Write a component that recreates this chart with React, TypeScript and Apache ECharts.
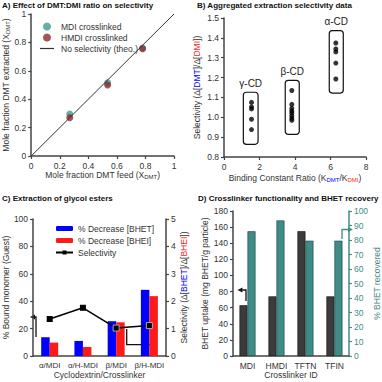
import React, { useEffect, useRef } from "react";
import * as echarts from "echarts";

// ---- Panel A data ----
const aFeed = [0.27, 0.535, 0.78];
const aMDI = [0.295, 0.515, 0.76];
const aHMDI = [0.27, 0.5, 0.755];
const aTheo = [[0, 0], [1, 1]];

// ---- Panel B data ----
const bGroups = ["γ-CD", "β-CD", "α-CD"];
const bX = [1.55, 3.82, 6.3];
const bGamma = [1.075, 1.052, 1.042, 0.99, 0.938];
const bBeta = [1.135, 1.065, 1.045, 1.032, 1.022, 1.008, 0.995, 0.985];
const bAlpha = [1.374, 1.344, 1.329, 1.273, 1.193];
const bBoxX = [[1.09, 1.92], [3.45, 4.24], [5.93, 6.72]];
const bBoxY = [[0.864, 1.126], [0.914, 1.186], [1.122, 1.436]];

// ---- Panel C data ----
const cCats = ["α/MDI", "α/H-MDI", "β/MDI", "β/H-MDI"];
const cBHET = [13.7, 11, 25.4, 48.3];
const cBHEI = [9.8, 6.6, 24.6, 43.7];
const cSel = [1.35, 1.76, 1.02, 1.11];

// ---- Panel D data ----
const dCats = ["MDI", "HMDI", "TFTN", "TFIN"];
const dUptake = [63, 74, 155, 74];
const dRecovered = [86, 93.5, 79.5, 79.5];

const FONT = "Liberation Sans, Arial, Helvetica, sans-serif";
const TXT = "#333";
const TEAL = "#3f8b86";
const BLUE = "#0000ff";
const RED = "#ff1a1a";

const axisCommon = {
  axisLine: { show: true, lineStyle: { color: "#444", width: 1.5 } },
  axisTick: { show: true, length: 3, lineStyle: { color: "#444", width: 1.2 } },
  axisLabel: { fontSize: 8.5, color: TXT, fontFamily: FONT, margin: 5 },
  splitLine: { show: false },
  nameTextStyle: { fontSize: 8.5, color: TXT, fontFamily: FONT },
};

const sub = { fontSize: 6, color: TXT, fontFamily: FONT, padding: [4, 0, 0, 0] };
const subB = { ...sub, color: BLUE };
const subR = { ...sub, color: RED };
const nameStyle = (extra: any = {}) => ({
  fontSize: 8.5,
  color: TXT,
  fontFamily: FONT,
  rich: { sub, subB, subR, b: { fontSize: 8.5, color: BLUE, fontFamily: FONT }, r: { fontSize: 8.5, color: RED, fontFamily: FONT }, t: { fontSize: 8.5, color: TXT, fontFamily: FONT } },
  ...extra,
});

function arrow(points: number[][], color: string) {
  const n = points.length;
  const [x1, y1] = points[n - 2];
  const [x2, y2] = points[n - 1];
  const ang = Math.atan2(y2 - y1, x2 - x1);
  const L = 5, W = 2.6;
  const bx = x2 - L * Math.cos(ang), by = y2 - L * Math.sin(ang);
  const px = -Math.sin(ang) * W, py = Math.cos(ang) * W;
  return [
    { type: "polyline", shape: { points: points.slice(0, n - 1).concat([[bx, by]]) }, style: { stroke: color, lineWidth: 1.3, fill: null } },
    { type: "polygon", shape: { points: [[x2, y2], [bx + px, by + py], [bx - px, by - py]] }, style: { fill: color } },
  ];
}

function title(text: string, x: number, y: number) {
  return { type: "text", x, y, style: { text, fill: "#111", font: `bold 8px ${FONT}`, textVerticalAlign: "middle" } };
}

export default function App() {
  const ref = useRef<HTMLDivElement>(null);
  useEffect(() => {
    const chart = echarts.init(ref.current!, undefined, { renderer: "svg" });
    const option: any = {
      animation: false,
      textStyle: { fontFamily: FONT },
      grid: [
        { left: 30, top: 14, width: 144, height: 142 },
        { left: 224, top: 18, width: 142, height: 139 },
        { left: 31, top: 219, width: 135, height: 137 },
        { left: 233, top: 211, width: 120, height: 145 },
      ],
      xAxis: [
        { ...axisCommon, gridIndex: 0, type: "value", min: 0, max: 1, interval: 0.2, name: "Mole fraction DMT feed (X{sub|DMT})", nameLocation: "middle", nameGap: 14, nameTextStyle: nameStyle() },
        { ...axisCommon, gridIndex: 1, type: "value", min: 0, max: 8, interval: 2, name: "Binding Constant Ratio (K{subB|DMT}/K{subR|DMI})", nameLocation: "middle", nameGap: 16, nameTextStyle: nameStyle() },
        { ...axisCommon, gridIndex: 2, type: "category", data: cCats, axisTick: { show: false }, axisLabel: { ...axisCommon.axisLabel, interval: 0, fontSize: 8 }, name: "Cyclodextrin/Crosslinker", nameLocation: "middle", nameGap: 14, nameTextStyle: nameStyle() },
        { ...axisCommon, gridIndex: 3, type: "category", data: dCats, axisTick: { show: false }, axisLabel: { ...axisCommon.axisLabel, interval: 0 }, name: "Crosslinker ID", nameLocation: "middle", nameGap: 14, nameTextStyle: nameStyle() },
      ],
      yAxis: [
        { ...axisCommon, gridIndex: 0, type: "value", min: 0, max: 1, interval: 0.2, name: "Mole fraction DMT extracted (X{sub|DMT})", nameLocation: "middle", nameGap: 20, nameTextStyle: nameStyle() },
        { ...axisCommon, gridIndex: 1, type: "value", min: 0.8, max: 1.5, interval: 0.1, axisLabel: { ...axisCommon.axisLabel, formatter: (v: number) => v.toFixed(1) }, name: "Selectivity (Δ[{b|DMT}]/Δ[{r|DMI}])", nameLocation: "middle", nameGap: 23, nameTextStyle: nameStyle() },
        { ...axisCommon, gridIndex: 2, type: "value", min: 0, max: 100, interval: 20, name: "% Bound monomer (Guest)", nameLocation: "middle", nameGap: 21, nameTextStyle: nameStyle() },
        { ...axisCommon, gridIndex: 2, type: "value", position: "right", min: 0, max: 5, interval: 1, name: "Selectivity (Δ[{b|BHET}]/Δ[{r|BHEI}])", nameLocation: "middle", nameGap: 12, nameRotate: 90, nameTextStyle: nameStyle() },
        { ...axisCommon, gridIndex: 3, type: "value", min: 0, max: 180, interval: 20, name: "BHET uptake (mg BHET/g particle)", nameLocation: "middle", nameGap: 17, nameTextStyle: nameStyle() },
        {
          ...axisCommon, gridIndex: 3, type: "value", position: "right", min: 0, max: 100, interval: 10,
          axisLine: { show: true, lineStyle: { color: TEAL, width: 1.5 } },
          axisTick: { show: true, length: 3, lineStyle: { color: TEAL, width: 1.2 } },
          axisLabel: { ...axisCommon.axisLabel, color: TEAL },
          name: "% BHET recovered", nameLocation: "middle", nameGap: 20, nameRotate: 90, nameTextStyle: nameStyle({ color: TEAL }),
        },
      ],
      legend: [
        {
          left: 35, top: 17, orient: "vertical", itemGap: 2, itemWidth: 14, itemHeight: 8,
          textStyle: { fontSize: 8.5, color: TXT, fontFamily: FONT, padding: [0, 0, 0, 2] },
          data: [
            { name: "MDI crosslinked", icon: "circle" },
            { name: "HMDI crosslinked", icon: "circle" },
            { name: "No selectivity (theo.)", icon: "path://M0,0 L14,0 L14,1.2 L0,1.2 Z" },
          ],
        },
        {
          left: 50, top: 219, orient: "vertical", itemGap: 3, itemWidth: 17, itemHeight: 5,
          textStyle: { fontSize: 8.5, color: TXT, fontFamily: FONT },
          data: ["% Decrease [BHET]", "% Decrease [BHEI]", "Selectivity"],
        },
      ],
      series: [
        { name: "No selectivity (theo.)", type: "line", xAxisIndex: 0, yAxisIndex: 0, data: aTheo, symbol: "none", lineStyle: { color: "#333", width: 1 }, itemStyle: { color: "#333" } },
        { name: "MDI crosslinked", type: "scatter", xAxisIndex: 0, yAxisIndex: 0, symbolSize: 7, itemStyle: { color: "#3e9a8e" }, data: aFeed.map((x, i) => [x, aMDI[i]]) },
        { name: "HMDI crosslinked", type: "scatter", xAxisIndex: 0, yAxisIndex: 0, symbolSize: 7, itemStyle: { color: "#8e2b2e" }, data: aFeed.map((x, i) => [x, aHMDI[i]]) },
        // Panel B
        {
          type: "custom", xAxisIndex: 1, yAxisIndex: 1, silent: true,
          data: bBoxX.map((bx, i) => [bx[0], bx[1], bBoxY[i][0], bBoxY[i][1]]),
          encode: { x: [0, 1], y: [2, 3] },
          renderItem: (params: any, api: any) => {
            const p1 = api.coord([api.value(0), api.value(3)]);
            const p2 = api.coord([api.value(1), api.value(2)]);
            return {
              type: "group",
              children: [
                { type: "rect", shape: { x: p1[0], y: p1[1], width: p2[0] - p1[0], height: p2[1] - p1[1], r: 3 }, style: { fill: "none", stroke: "#111", lineWidth: 1.2 } },
                { type: "text", style: { text: bGroups[params.dataIndex], x: (p1[0] + p2[0]) / 2, y: p1[1] - 9, align: "center", verticalAlign: "middle", fontSize: 10, fontFamily: FONT, fill: "#222" } },
              ],
            };
          },
        },
        { type: "scatter", xAxisIndex: 1, yAxisIndex: 1, symbolSize: 5, itemStyle: { color: "#000" }, data: bGamma.map((v) => [bX[0], v]) },
        { type: "scatter", xAxisIndex: 1, yAxisIndex: 1, symbolSize: 5, itemStyle: { color: "#000" }, data: bBeta.map((v) => [bX[1], v]) },
        { type: "scatter", xAxisIndex: 1, yAxisIndex: 1, symbolSize: 5, itemStyle: { color: "#000" }, data: bAlpha.map((v) => [bX[2], v]) },
        // Panel C
        { name: "% Decrease [BHET]", type: "bar", xAxisIndex: 2, yAxisIndex: 2, barWidth: 8.5, barGap: "0%", itemStyle: { color: BLUE }, data: cBHET },
        { name: "% Decrease [BHEI]", type: "bar", xAxisIndex: 2, yAxisIndex: 2, barWidth: 8.5, barGap: "0%", itemStyle: { color: RED }, data: cBHEI },
        {
          name: "Selectivity", type: "line", xAxisIndex: 2, yAxisIndex: 3, symbol: "rect", symbolSize: 6,
          lineStyle: { color: "#000", width: 1.5 }, itemStyle: { color: "#000" },
          data: cSel.map((v, i) => (i >= 2 ? { value: v, itemStyle: { color: "#000", borderColor: "#aaa", borderWidth: 1 } } : v)),
        },
        // Panel D
        { type: "bar", xAxisIndex: 3, yAxisIndex: 4, barWidth: 8, barGap: "0%", itemStyle: { color: "#3b3b3b", borderColor: "#111", borderWidth: 0.6 }, data: dUptake },
        { type: "bar", xAxisIndex: 3, yAxisIndex: 5, barWidth: 8, barGap: "0%", itemStyle: { color: TEAL, borderColor: "#1d3f3c", borderWidth: 0.6 }, data: dRecovered },
      ],
      graphic: [
        title("A) Effect of DMT:DMI ratio on selectivity", 2, 5),
        title("B) Aggregated extraction selectivity data", 197, 5),
        title("C) Extraction of glycol esters", 2, 198),
        title("D) Crosslinker functionality and BHET recovery", 198, 198),
        ...arrow([[36, 337], [36, 317], [30, 317]], "#111"),
        ...arrow([[126.7, 329], [126.7, 344.7], [157, 344.7]], "#111"),
        ...arrow([[246, 301], [246, 290], [237.5, 290]], "#111"),
        ...arrow([[342, 239], [342, 229.5], [353, 229.5]], TEAL),
      ],
    };
    chart.setOption(option);
    return () => chart.dispose();
  }, []);
  return <div ref={ref} style={{ position: "fixed", left: 0, top: 0, width: 382, height: 382, background: "#fff" }} />;
}
